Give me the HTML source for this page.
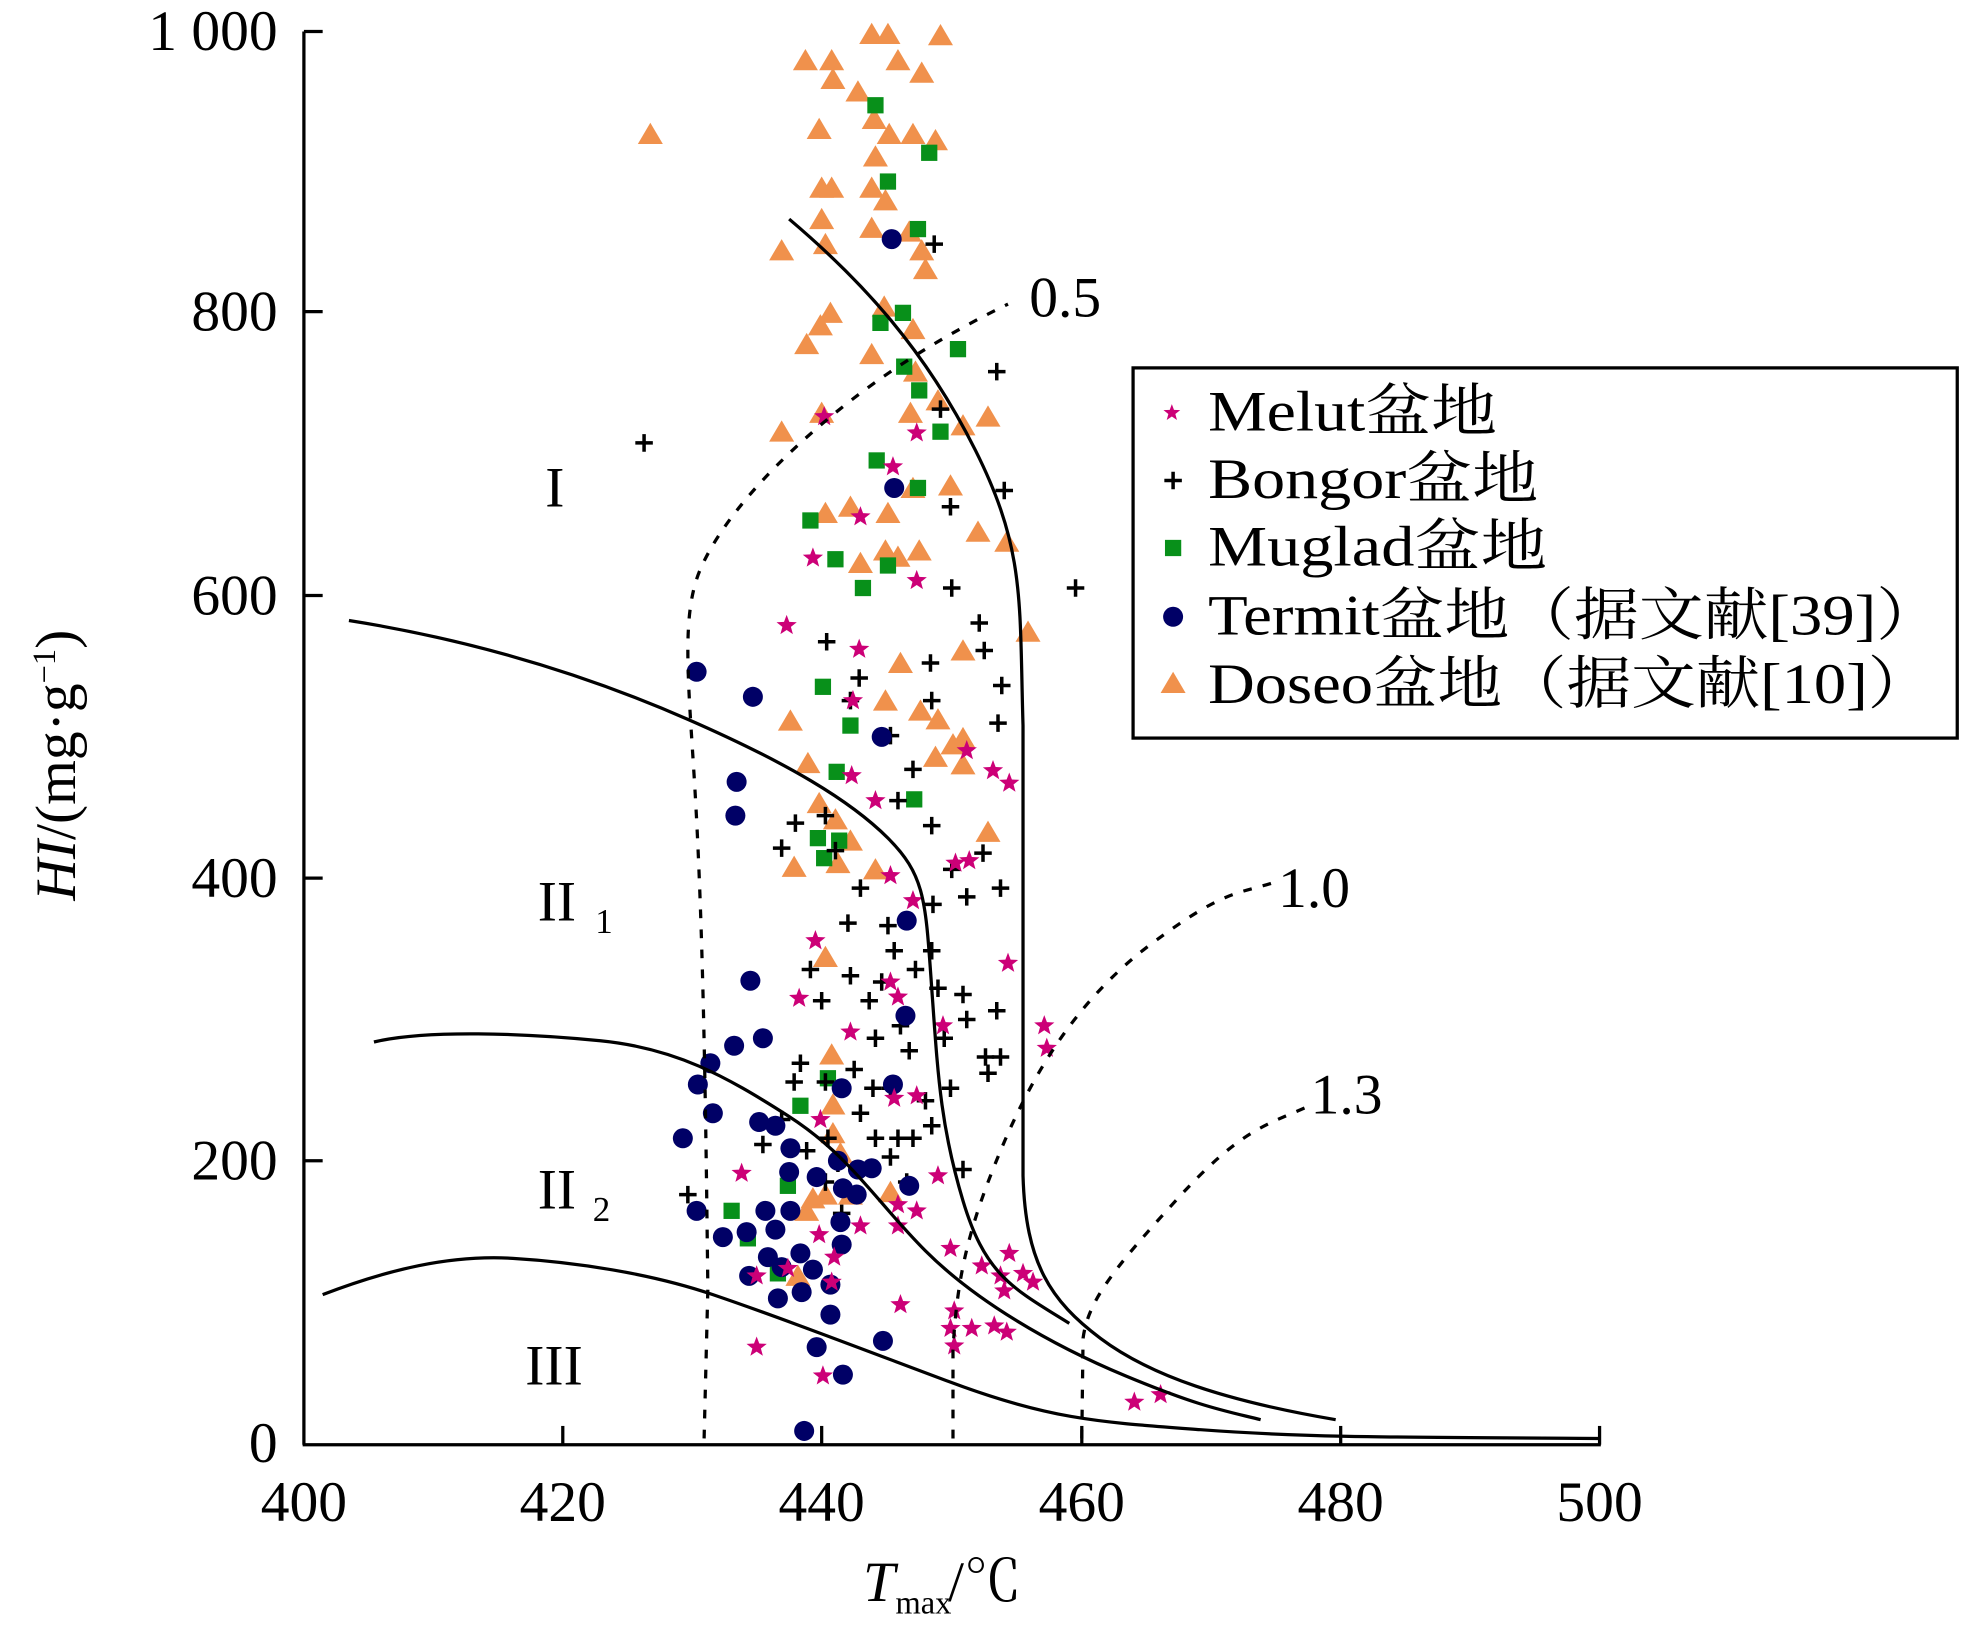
<!DOCTYPE html>
<html><head><meta charset="utf-8"><style>html,body{margin:0;padding:0;background:#fff}svg{display:block}</style></head>
<body>
<svg id="s" width="1961" height="1635" viewBox="0 0 1568 1307" xmlns="http://www.w3.org/2000/svg" font-family="'Liberation Serif','Noto Serif CJK SC',serif">
<rect width="1568" height="1307" fill="#fff"/>
<g id="pts"></g>
<g fill="none" stroke="#000" stroke-width="2.6">
<path d="M631,175 C690,225 740,280 780,360 S815,480 818,580 L818,940 C820,1010 840,1040 880,1070 S980,1120 1068,1135"/>
<path d="M279,496 C380,512 470,540 550,575 S680,640 710,670 S740,720 745,790 S752,900 770,960 S810,1030 855,1058"/>
<path d="M299,833 C340,823 420,826 480,832 S580,860 630,892 S700,960 740,1000 S840,1075 900,1100 S980,1128 1008,1135"/>
<path d="M258,1035 C310,1015 360,1003 410,1006 S520,1018 570,1035 S680,1075 760,1105 S880,1137 960,1143 S1100,1149 1279,1150"/>
</g>
<g fill="none" stroke="#000" stroke-width="2.6" stroke-dasharray="7,9">
<path d="M563,1150 L566,1030 L565,950 C563,800 560,700 555,620 S545,490 560,455 S610,380 650,345 S740,275 806,243"/>
<path d="M762,1150 L762,1080 C765,1020 775,980 800,920 S860,800 920,755 S990,715 1020,705"/>
<path d="M865,1150 L866,1070 C870,1040 890,1015 940,960 S1010,900 1045,885"/>
</g>
<g stroke="#000" stroke-width="2.6">
<line x1="243" y1="25" x2="243" y2="1155"/><line x1="242" y1="1155" x2="1280" y2="1155"/>
<line x1="243" y1="25" x2="258" y2="25"/><line x1="243" y1="249" x2="258" y2="249"/><line x1="243" y1="476" x2="258" y2="476"/><line x1="243" y1="702" x2="258" y2="702"/><line x1="243" y1="928" x2="258" y2="928"/>
<line x1="450" y1="1155" x2="450" y2="1140"/><line x1="657" y1="1155" x2="657" y2="1140"/><line x1="865" y1="1155" x2="865" y2="1140"/><line x1="1072" y1="1155" x2="1072" y2="1140"/><line x1="1279" y1="1155" x2="1279" y2="1140"/>
</g>
<g font-size="46" fill="#000">
<g text-anchor="end"><text x="222" y="40">1 000</text><text x="222" y="264">800</text><text x="222" y="491">600</text><text x="222" y="717">400</text><text x="222" y="943">200</text><text x="222" y="1169">0</text></g>
<g text-anchor="middle"><text x="243" y="1216">400</text><text x="450" y="1216">420</text><text x="657" y="1216">440</text><text x="865" y="1216">460</text><text x="1072" y="1216">480</text><text x="1279" y="1216">500</text></g>
<text x="690" y="1280" font-style="italic">T</text><text x="716" y="1290" font-size="26">max</text><text x="758" y="1280">/℃</text>
<text transform="translate(60,720) rotate(-90)" ><tspan font-style="italic">HI</tspan>/(mg·g<tspan font-size="26" dy="-16">−1</tspan><tspan dy="16">)</tspan></text>
<text x="436" y="405">I</text>
<text x="430" y="736">II</text><text x="476" y="746" font-size="28">1</text>
<text x="430" y="966">II</text><text x="474" y="976" font-size="28">2</text>
<text x="420" y="1107">III</text>
<text x="823" y="253">0.5</text><text x="1022" y="725">1.0</text><text x="1048" y="890">1.3</text>
</g>
<rect x="906" y="294" width="659" height="296" fill="#fff" stroke="#000" stroke-width="2.6"/>
<g id="leg"></g>
<g font-size="46" fill="#000">
<text x="966" y="344" textLength="231" lengthAdjust="spacingAndGlyphs">Melut盆地</text>
<text x="966" y="398" textLength="264" lengthAdjust="spacingAndGlyphs">Bongor盆地</text>
<text x="966" y="452" textLength="271" lengthAdjust="spacingAndGlyphs">Muglad盆地</text>
<text x="966" y="507" textLength="586" lengthAdjust="spacingAndGlyphs">Termit盆地（据文献[39]）</text>
<text x="966" y="562" textLength="579" lengthAdjust="spacingAndGlyphs">Doseo盆地（据文献[10]）</text>
</g>
<script>
var NS="http://www.w3.org/2000/svg";
function el(p,t,a){var e=document.createElementNS(NS,t);for(var k in a)e.setAttribute(k,a[k]);p.appendChild(e);}
function star(x,y,r){var s="";for(var i=0;i<10;i++){var rr=i%2?r*0.42:r;var a=-Math.PI/2+i*Math.PI/5;s+=(i?"L":"M")+(x+rr*Math.cos(a)).toFixed(1)+","+(y+rr*Math.sin(a)).toFixed(1);}return s+"Z";}
function tri(g,x,y){el(g,"path",{d:"M"+x+","+(y-9)+"L"+(x+10)+","+(y+8)+"L"+(x-10)+","+(y+8)+"Z",fill:"#f0914c"});}
function sq(g,x,y){el(g,"rect",{x:x-6.5,y:y-6.5,width:13,height:13,fill:"#08901a"});}
function cir(g,x,y){el(g,"circle",{cx:x,cy:y,r:8,fill:"#000066"});}
function cr(g,x,y){el(g,"path",{d:"M"+(x-7)+","+y+"H"+(x+7)+"M"+x+","+(y-7)+"V"+(y+7),stroke:"#000","stroke-width":2.8});}
function st(g,x,y,r){el(g,"path",{d:star(x,y,r||8.5),fill:"#cc0077"});}
var g=document.getElementById("pts");
var T=[[520,107],[644,48],[665,48],[697,27],[710,27],[752,28],[666,63],[686,73],[718,48],[737,58],[655,103],[699,95],[711,107],[700,125],[730,107],[748,112],[657,150],[665,150],[697,150],[708,160],[697,182],[727,185],[737,200],[625,200],[657,175],[660,195],[740,215],[707,245],[730,263],[664,250],[656,260],[645,275],[697,283],[732,297],[728,330],[750,320],[770,340],[790,333],[625,345],[657,330],[660,410],[680,405],[710,410],[730,390],[760,388],[708,440],[735,440],[805,433],[688,450],[718,445],[782,425],[822,505],[770,520],[708,560],[720,530],[632,576],[646,610],[655,642],[668,655],[736,568],[750,575],[762,595],[770,590],[748,605],[770,611],[790,665],[635,693],[680,672],[670,690],[660,765],[665,843],[666,883],[666,906],[672,922],[650,958],[645,968],[660,955],[638,1020],[680,955],[712,953],[700,695]];
var C=[[515,354],[747,195],[797,297],[803,392],[860,470],[752,327],[760,405],[761,470],[783,498],[787,520],[801,548],[798,578],[661,513],[687,542],[744,530],[680,560],[745,560],[712,588],[730,615],[718,640],[745,660],[786,682],[800,710],[773,717],[746,723],[761,695],[625,678],[636,658],[660,652],[668,680],[688,710],[710,740],[678,738],[648,775],[657,800],[680,780],[705,785],[732,775],[750,790],[770,795],[773,815],[797,808],[755,830],[788,845],[800,845],[790,858],[640,850],[635,865],[660,865],[683,855],[700,830],[720,820],[727,840],[712,870],[740,880],[760,870],[745,900],[730,910],[770,935],[610,915],[625,895],[645,920],[662,910],[688,890],[700,910],[718,910],[712,925],[725,945],[550,955],[660,945],[673,970],[698,870],[695,800],[715,760],[745,760],[670,930]];
var S=[[700,84],[743,122],[710,145],[734,183],[722,250],[704,258],[723,293],[735,312],[766,279],[752,345],[701,368],[734,390],[648,416],[668,447],[690,470],[710,452],[658,549],[680,580],[669,617],[731,639],[654,670],[671,672],[659,686],[662,862],[640,884],[630,948],[585,968],[598,990],[622,1018]];
var O=[[713,191],[715,390],[557,537],[602,557],[705,589],[589,625],[588,652],[725,736],[600,784],[724,812],[610,830],[587,836],[568,850],[558,867],[714,867],[673,870],[570,890],[607,897],[620,900],[546,910],[632,918],[670,928],[697,934],[631,937],[653,941],[686,935],[674,950],[612,968],[727,948],[685,955],[557,968],[620,983],[672,977],[632,968],[597,985],[578,989],[614,1005],[640,1002],[650,1015],[625,1013],[599,1020],[673,995],[664,1027],[622,1038],[641,1033],[664,1051],[653,1077],[706,1072],[674,1099],[643,1144]];
var P=[[659,333],[714,373],[733,346],[688,413],[650,446],[733,464],[629,500],[687,519],[682,560],[681,620],[700,640],[773,600],[807,626],[794,616],[764,690],[775,688],[712,700],[730,720],[652,752],[806,770],[639,798],[712,785],[718,797],[835,820],[837,838],[754,820],[680,825],[733,876],[715,878],[656,895],[593,938],[750,940],[718,963],[733,968],[718,980],[688,980],[655,987],[667,1005],[630,1014],[605,1020],[665,1025],[760,998],[785,1012],[807,1002],[800,1020],[818,1018],[826,1025],[803,1032],[720,1043],[763,1048],[760,1062],[777,1062],[795,1060],[805,1065],[763,1076],[605,1077],[658,1100],[907,1121],[928,1115]];
T.forEach(function(p){tri(g,p[0],p[1]);});
S.forEach(function(p){sq(g,p[0],p[1]);});
C.forEach(function(p){cr(g,p[0],p[1]);});
O.forEach(function(p){cir(g,p[0],p[1]);});
P.forEach(function(p){st(g,p[0],p[1]);});
var l=document.getElementById("leg");
st(l,937,330,7);cr(l,938,384);sq(l,938,438);cir(l,938,493);tri(l,938,546);
</script>
</svg>
</body></html>
